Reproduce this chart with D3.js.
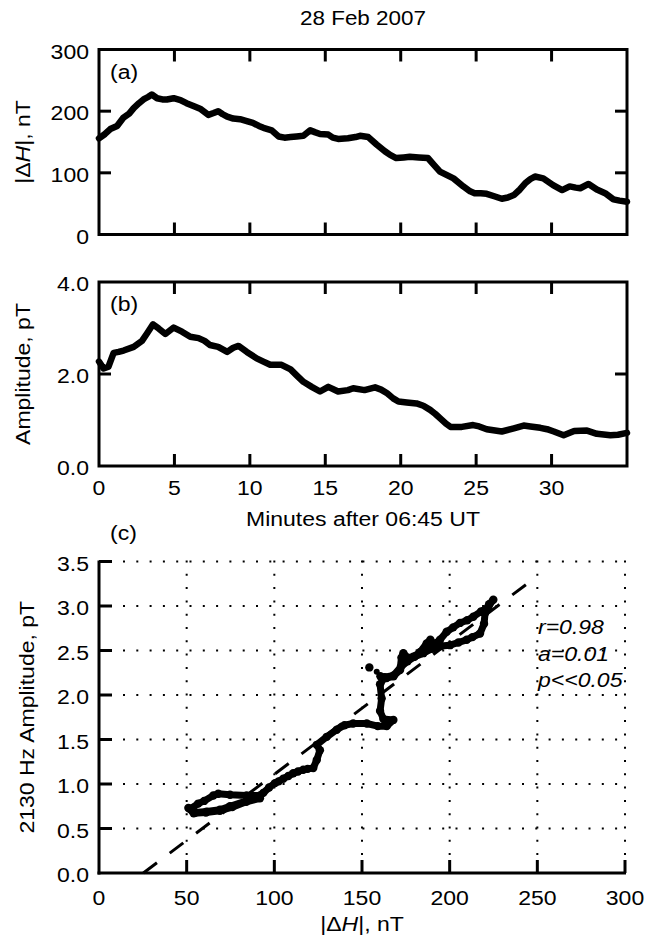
<!DOCTYPE html>
<html><head><meta charset="utf-8">
<script src="https://cdn.jsdelivr.net/npm/d3@7"></script>
<style>
body{margin:0;background:#fff}
text{font-family:"Liberation Sans",Arial,Helvetica,sans-serif;fill:#000}
</style>
</head><body>
<svg id="chart" width="647" height="938"></svg>
<script>
// ---------------- data ----------------
const titleText = "28 Feb 2007";
const minutesA = [0,0.4,0.75,1.2,1.6,2.0,2.3,2.65,2.95,3.25,3.5,3.85,4.2,4.5,4.95,5.4,5.8,6.3,6.7,7.25,7.6,7.9,8.2,8.5,8.9,9.35,9.8,10.2,10.6,10.9,11.45,11.9,12.3,12.7,13.1,13.55,14.0,14.3,14.65,15.2,15.5,15.85,16.5,17.0,17.3,17.85,18.4,18.95,19.3,19.7,20.2,20.6,21.2,21.8,22.2,22.6,23.0,23.5,24.15,24.6,24.9,25.3,25.7,26.2,26.7,27.1,27.5,27.9,28.25,28.6,28.9,29.45,30.1,30.4,30.7,31.2,31.6,31.9,32.45,33.0,33.55,34.1,34.5,35];
const deltaH = [156,163,171,176,189,196,205,213,219,223,227,221,219,219,221,218,213,208,204,194,197,200,195,191,188,187,184,181,176,173,169,159,157,158,159,160,169,166,163,162,157,155,156,158,160,158,146,135,129,124,125,126,125,124,113,102,97,91,78,70,67,67,66,62,58,60,64,73,83,90,94,91,80,76,72,78,76,75,82,73,67,57,55,53];
const minutesB = [0,0.3,0.63,0.97,1.3,1.63,2.3,2.85,3.18,3.58,3.95,4.4,4.95,5.5,6.05,6.6,7.0,7.35,7.9,8.5,8.9,9.25,9.8,10.45,10.9,11.35,12.1,12.7,13.1,13.55,14.1,14.65,15.2,15.85,16.5,16.85,17.6,18.3,18.7,19.1,19.5,19.85,20.4,21.05,21.5,21.95,22.3,22.6,23.0,23.3,24.05,24.8,25.2,25.7,26.7,27.5,28.15,28.6,29.25,29.7,30.15,30.8,31.5,32.35,33.0,33.9,34.4,35];
const amplitude = [2.27,2.12,2.16,2.46,2.48,2.51,2.59,2.72,2.88,3.08,2.99,2.87,3.01,2.92,2.81,2.78,2.72,2.63,2.59,2.48,2.57,2.61,2.48,2.34,2.27,2.20,2.20,2.10,1.97,1.83,1.72,1.62,1.72,1.62,1.65,1.69,1.65,1.71,1.66,1.58,1.47,1.40,1.38,1.36,1.31,1.22,1.13,1.04,0.92,0.85,0.85,0.89,0.86,0.80,0.75,0.82,0.88,0.86,0.83,0.80,0.75,0.67,0.76,0.77,0.70,0.67,0.68,0.72];
const scatterH = [154.2,158.4,160.5,164,168,171.7,172.5,173.6,176,179.3,183,186.9,189,191,194.5,198.3,202,205.9,210,213.5,218,222,224.9,222.5,220.2,219.6,217.3,213,209.7,205,200.2,195,190,185,180,176,172,168,163,160.3,161.2,160.3,162.2,167.9,164.1,159,152.7,145,140,135.6,129.9,124.2,126,124.2,122.2,119,116.5,113.5,110.8,108,105.1,102.5,100.4,97,93.7,91.8,84.2,74.7,68,65.2,60,56.6,52,55,61.4,69,74.7,84.2,91.8,84,76,69,61,54,51];
const scatterAmp = [2.31,2.26,2.21,2.19,2.21,2.28,2.42,2.47,2.42,2.43,2.48,2.58,2.62,2.57,2.62,2.71,2.76,2.81,2.84,2.88,2.94,2.99,3.07,3.02,2.92,2.80,2.69,2.65,2.62,2.59,2.56,2.55,2.52,2.47,2.43,2.38,2.31,2.22,2.20,2.12,1.96,1.82,1.73,1.72,1.65,1.65,1.68,1.68,1.66,1.61,1.53,1.44,1.38,1.27,1.18,1.17,1.16,1.14,1.12,1.09,1.06,1.03,1.01,0.96,0.90,0.87,0.87,0.88,0.89,0.87,0.81,0.78,0.72,0.68,0.69,0.71,0.75,0.81,0.84,0.80,0.74,0.70,0.68,0.67,0.73];
const fitH = [25.3, 243.5];
const fitAmp = [0, 3.24];
const timeTicks = [0,5,10,15,20,25,30];
const deltaHTicks = [0,100,200,300];
const ampTicks = [0,2,4];
const scatterXTicks = [0,50,100,150,200,250,300];
const scatterYTicks = [0,0.5,1,1.5,2,2.5,3,3.5];
const statsLines = ["r=0.98","a=0.01","p<<0.05"];
const panelLabels = ["(a)","(b)","(c)"];

// ---------------- drawing ----------------
const svg = d3.select("#chart");
const FS = 20;
const SX = 1.15;
function stretch(sel){
  sel.each(function(){
    const L = this.getComputedTextLength();
    this.setAttribute("textLength", L*SX);
    this.setAttribute("lengthAdjust","spacingAndGlyphs");
  });
}

svg.append("text").attr("x",363).attr("y",18).attr("text-anchor","middle")
  .attr("dominant-baseline","central").attr("font-size",19.5).text(titleText).call(stretch);

const xT = d3.scaleLinear().domain([0,35]).range([99,627]);
const yA = d3.scaleLinear().domain([0,300]).range([234.5,49.5]);
const yB = d3.scaleLinear().domain([0,4]).range([466,282]);

function framePanel(y, yticks, fmt, label, ylabelParts){
  const g = svg.append("g");
  const [x0,x1] = xT.range(); const [yb,yt] = y.range();
  g.append("rect").attr("x",x0).attr("y",yt).attr("width",x1-x0).attr("height",yb-yt)
    .attr("fill","none").attr("stroke","#000").attr("stroke-width",3);
  const TL = 12;
  timeTicks.filter(d=>d>0).forEach(d=>{
    g.append("line").attr("x1",xT(d)).attr("x2",xT(d)).attr("y1",yb).attr("y2",yb-TL).attr("stroke","#000").attr("stroke-width",3);
    g.append("line").attr("x1",xT(d)).attr("x2",xT(d)).attr("y1",yt).attr("y2",yt+TL).attr("stroke","#000").attr("stroke-width",3);
  });
  yticks.forEach(d=>{
    if (y(d) > yt+1 && y(d) < yb-1){
      g.append("line").attr("x1",x0).attr("x2",x0+TL).attr("y1",y(d)).attr("y2",y(d)).attr("stroke","#000").attr("stroke-width",3);
      g.append("line").attr("x1",x1).attr("x2",x1-TL).attr("y1",y(d)).attr("y2",y(d)).attr("stroke","#000").attr("stroke-width",3);
    }
    g.append("text").attr("x",89).attr("y",y(d)+2).attr("text-anchor","end")
      .attr("dominant-baseline","central").attr("font-size",FS).text(fmt(d)).call(stretch);
  });
  g.append("text").attr("x",x0+11).attr("y",yt+22).attr("dominant-baseline","central")
    .attr("font-size",FS).text(label).call(stretch);
  const yl = g.append("text").attr("transform",`translate(23,${(yb+yt)/2}) rotate(-90)`)
    .attr("text-anchor","middle").attr("dominant-baseline","central").attr("font-size",FS);
  ylabelParts.forEach(p=>{ yl.append("tspan").attr("font-style",p[1]?"italic":null).text(p[0]); });
  yl.call(stretch);
  return g;
}

framePanel(yA, deltaHTicks, d3.format("d"), panelLabels[0], [["|Δ",false],["H",true],["|, nT",false]]);
framePanel(yB, ampTicks, d3.format(".1f"), panelLabels[1], [["Amplitude, pT",false]]);

const lineA = d3.line().x((d,i)=>xT(minutesA[i])).y(d=>yA(d));
svg.append("path").datum(deltaH).attr("d",lineA).attr("fill","none").attr("stroke","#000")
  .attr("stroke-width",6.5).attr("stroke-linejoin","round").attr("stroke-linecap","round");
const lineB = d3.line().x((d,i)=>xT(minutesB[i])).y(d=>yB(d));
svg.append("path").datum(amplitude).attr("d",lineB).attr("fill","none").attr("stroke","#000")
  .attr("stroke-width",6.5).attr("stroke-linejoin","round").attr("stroke-linecap","round");

// time tick labels under panel b
timeTicks.forEach(d=>{
  svg.append("text").attr("x",xT(d)).attr("y",488).attr("text-anchor","middle")
    .attr("dominant-baseline","central").attr("font-size",FS).text(d).call(stretch);
});
svg.append("text").attr("x",363).attr("y",519).attr("text-anchor","middle")
  .attr("dominant-baseline","central").attr("font-size",FS).text("Minutes after 06:45 UT").call(stretch);

// ---------------- panel c ----------------
const xC = d3.scaleLinear().domain([0,300]).range([99,625]);
const yC = d3.scaleLinear().domain([0,3.5]).range([873,561.5]);
const gc = svg.append("g");
// dotted grid
scatterYTicks.filter(d=>d>0).forEach(d=>{
  gc.append("line").attr("x1",xC(0)+12).attr("x2",xC(300)+1).attr("y1",yC(d)).attr("y2",yC(d))
    .attr("stroke","#000").attr("stroke-width",2).attr("stroke-dasharray","2,11.3").attr("stroke-dashoffset",-12);
});
scatterXTicks.filter(d=>d>0).forEach(d=>{
  gc.append("line").attr("x1",xC(d)).attr("x2",xC(d)).attr("y1",yC(3.5)-1).attr("y2",yC(0)-12)
    .attr("stroke","#000").attr("stroke-width",2).attr("stroke-dasharray","2,11.3");
});
// axes
gc.append("line").attr("x1",xC(0)).attr("x2",xC(0)).attr("y1",yC(3.5)-1).attr("y2",yC(0)+1.5).attr("stroke","#000").attr("stroke-width",3);
gc.append("line").attr("x1",xC(0)-1.5).attr("x2",xC(300)+1).attr("y1",yC(0)).attr("y2",yC(0)).attr("stroke","#000").attr("stroke-width",3);
scatterYTicks.forEach(d=>{
  if(d>0) gc.append("line").attr("x1",xC(0)).attr("x2",xC(0)+13).attr("y1",yC(d)).attr("y2",yC(d)).attr("stroke","#000").attr("stroke-width",3);
  gc.append("text").attr("x",89).attr("y",yC(d)+2).attr("text-anchor","end")
    .attr("dominant-baseline","central").attr("font-size",FS).text(d3.format(".1f")(d)).call(stretch);
});
scatterXTicks.forEach(d=>{
  if(d>0) gc.append("line").attr("x1",xC(d)).attr("x2",xC(d)).attr("y1",yC(0)).attr("y2",yC(0)-13).attr("stroke","#000").attr("stroke-width",3);
  gc.append("text").attr("x",xC(d)).attr("y",898).attr("text-anchor","middle")
    .attr("dominant-baseline","central").attr("font-size",FS).text(d).call(stretch);
});
// labels
gc.append("text").attr("x",110).attr("y",533).attr("dominant-baseline","central")
  .attr("font-size",FS).text(panelLabels[2]).call(stretch);
const xl = gc.append("text").attr("x",362).attr("y",924).attr("text-anchor","middle")
  .attr("dominant-baseline","central").attr("font-size",FS);
xl.append("tspan").text("|Δ"); xl.append("tspan").attr("font-style","italic").text("H"); xl.append("tspan").text("|, nT");
xl.call(stretch);
gc.append("text").attr("transform",`translate(27,${(yC(0)+yC(3.5))/2}) rotate(-90)`)
  .attr("text-anchor","middle").attr("dominant-baseline","central").attr("font-size",FS)
  .text("2130 Hz Amplitude, pT").call(stretch);
// fit line
gc.append("line").attr("x1",xC(fitH[0])).attr("y1",yC(fitAmp[0])).attr("x2",xC(fitH[1])).attr("y2",yC(fitAmp[1]))
  .attr("stroke","#000").attr("stroke-width",3).attr("stroke-dasharray","17,16");
// scatter trajectory (first two samples are separate dots)
const lineC = d3.line().x((d,i)=>xC(scatterH[i+2])).y(d=>yC(d));
gc.append("path").datum(scatterAmp.slice(2)).attr("d",lineC).attr("fill","none").attr("stroke","#000")
  .attr("stroke-width",7).attr("stroke-linejoin","round").attr("stroke-linecap","round");
gc.selectAll("circle.pt").data(scatterAmp).enter().append("circle").attr("class","pt")
  .attr("cx",(d,i)=>xC(scatterH[i])).attr("cy",d=>yC(d)).attr("r",(d,i)=>i===1?3:4.2).attr("fill","#000");
// stats
statsLines.forEach((s,i)=>{
  gc.append("text").attr("x",538).attr("y",627+i*26.5).attr("dominant-baseline","central")
    .attr("font-size",FS).attr("font-style","italic").text(s).call(stretch);
});
</script>
</body></html>
